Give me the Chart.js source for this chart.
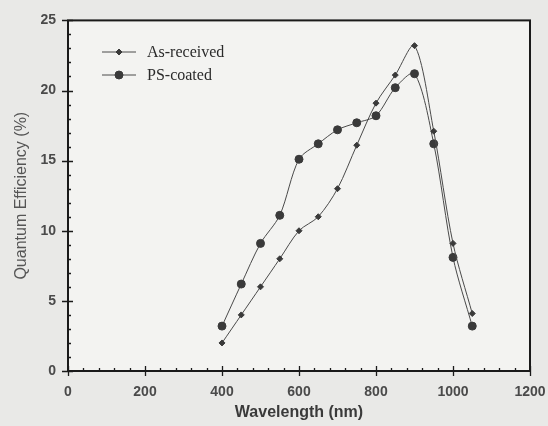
<!DOCTYPE html>
<html><head><meta charset="utf-8">
<script src="https://cdn.jsdelivr.net/npm/chart.js@4"></script>
<style>
html,body{margin:0;padding:0;background:#e9e9e7;}
#wrap{width:548px;height:426px;}
</style></head>
<body><div id="wrap"><canvas id="c" width="548" height="426"></canvas></div>
<script>
const wavelengths = [400,450,500,550,600,650,700,750,800,850,900,950,1000,1050];
const asReceived = [2,4,6,8,10,11,13,16.1,19.1,21.1,23.2,17.1,9.1,4.1];
const psCoated   = [3.2,6.2,9.1,11.1,15.1,16.2,17.2,17.7,18.2,20.2,21.2,16.2,8.1,3.2];
const xTicks = [0,200,400,600,800,1000,1200];
const yTicks = [0,5,10,15,20,25];
const seriesNames = ['As-received','PS-coated'];

const lineColor = '#4a4a4a';
const tickFont = {family:'Liberation Sans, Arial', size:14, weight:'bold'};

const frameAndTicks = {
  id:'frameTicks',
  beforeDraw(chart){
    const {ctx, chartArea:a} = chart;
    ctx.save();
    ctx.fillStyle = '#f3f3f1';
    ctx.fillRect(a.left, a.top, a.right-a.left, a.bottom-a.top);
    ctx.restore();
  },
  afterDraw(chart){
    const {ctx, chartArea:a, scales} = chart;
    const x = scales.x, y = scales.y;
    ctx.save();
    ctx.strokeStyle = '#1a1a1a';
    ctx.lineWidth = 2;
    ctx.strokeRect(a.left, a.top, a.right-a.left, a.bottom-a.top);
    ctx.lineWidth = 1.3;
    ctx.beginPath();
    for (let v = 0; v <= 1200; v += 40) {
      const px = Math.round(x.getPixelForValue(v)) + 0.5;
      const major = v % 200 === 0;
      ctx.moveTo(px, a.bottom + (major ? 5 : 0));
      ctx.lineTo(px, a.bottom - (major ? 5 : 3));
    }
    for (let v = 0; v <= 25; v += 1) {
      const py = Math.round(y.getPixelForValue(v)) + 0.5;
      const major = v % 5 === 0;
      ctx.moveTo(a.left - (major ? 6 : 0), py);
      ctx.lineTo(a.left + (major ? 5 : 3), py);
    }
    ctx.stroke();

    // legend
    const items = chart.data.datasets;
    const lx0 = 102, lx1 = 136, tx = 147;
    const ly = [52, 75];
    items.forEach((ds, i) => {
      ctx.strokeStyle = ds.borderColor;
      ctx.lineWidth = 1;
      ctx.beginPath();
      ctx.moveTo(lx0, ly[i]); ctx.lineTo(lx1, ly[i]); ctx.stroke();
      ctx.fillStyle = '#2a2a2a';
      ctx.font = '16px "Liberation Serif", "Times New Roman", serif';
      ctx.textBaseline = 'middle';
      ctx.fillText(seriesNames[i], tx, ly[i]+1);
      ctx.fillStyle = ds.pointBackgroundColor;
      ctx.strokeStyle = ds.pointBorderColor;
      Chart.helpers.drawPoint(ctx, {pointStyle: ds.pointStyle, radius: ds.pointRadius, borderWidth: 1}, (lx0+lx1)/2, ly[i]);
    });
    ctx.restore();
  }
};

new Chart(document.getElementById('c'), {
  type: 'line',
  data: {
    datasets: [
      {
        label: seriesNames[0],
        data: wavelengths.map((w,i)=>({x:w, y:asReceived[i]})),
        borderColor: lineColor, borderWidth: 1,
        pointStyle: 'rectRot', pointRadius: 3,
        pointBackgroundColor: '#3a3a3a', pointBorderColor: '#3a3a3a', pointBorderWidth: 1,
        tension: 0.3
      },
      {
        label: seriesNames[1],
        data: wavelengths.map((w,i)=>({x:w, y:psCoated[i]})),
        borderColor: lineColor, borderWidth: 1,
        pointStyle: 'circle', pointRadius: 4,
        pointBackgroundColor: '#3a3a3a', pointBorderColor: '#3a3a3a', pointBorderWidth: 1,
        tension: 0.3
      }
    ]
  },
  options: {
    responsive: false,
    animation: false,
    layout: {padding: {top: 15, right: 0, left: 0, bottom: 0}},
    plugins: {legend: {display: false}, tooltip: {enabled: false}},
    scales: {
      x: {
        type: 'linear', min: 0, max: 1200,
        afterBuildTicks(s){ s.ticks = xTicks.map(v=>({value:v})); },
        afterFit(s){ s.height = 55; s.paddingRight = 18; },
        grid: {display: false, drawTicks: false},
        border: {display: false},
        ticks: {color:'#4a4a4a', font: tickFont, padding: 13, maxRotation: 0,
                callback: v => String(v)},
        title: {display: true, text: 'Wavelength (nm)', color:'#3a3a3a',
                font: {family:'Liberation Sans, Arial', size:16, weight:'bold'}, padding: {top: 3}}
      },
      y: {
        type: 'linear', min: 0, max: 25,
        afterBuildTicks(s){ s.ticks = yTicks.map(v=>({value:v})); },
        afterFit(s){ s.width = 68; },
        grid: {display: false, drawTicks: false},
        border: {display: false},
        ticks: {color:'#4a4a4a', font: tickFont, padding: 12},
        title: {display: true, text: 'Quantum Efficiency (%)', color:'#555',
                font: {family:'Liberation Sans, Arial', size:16, weight:'normal'}, padding: {top: 12, bottom: 4}}
      }
    }
  },
  plugins: [frameAndTicks]
});
</script></body></html>
